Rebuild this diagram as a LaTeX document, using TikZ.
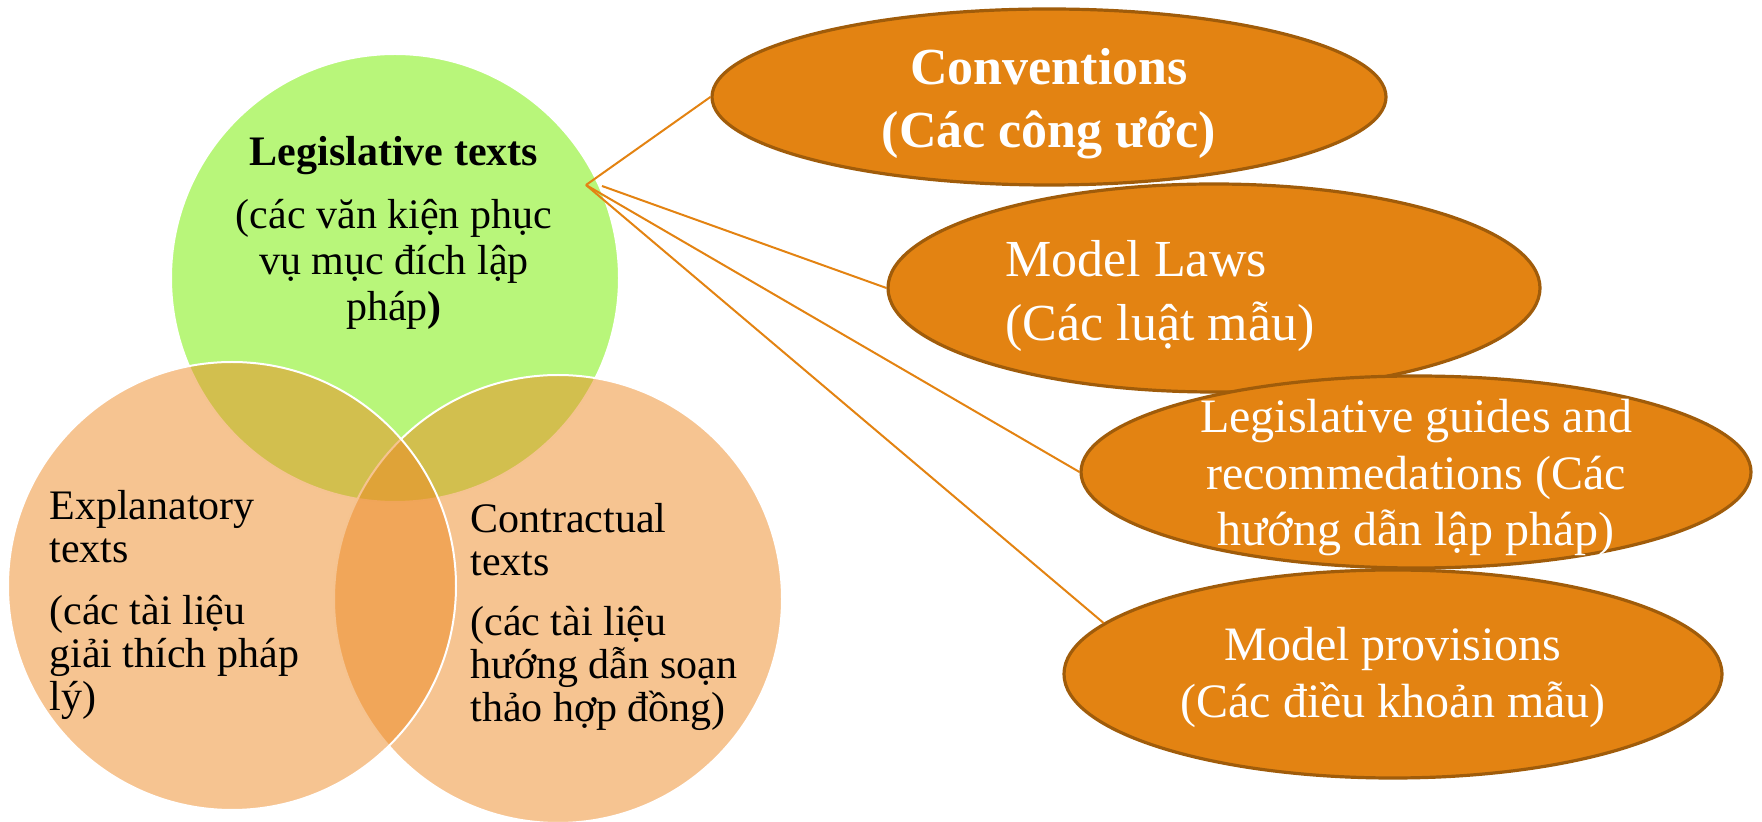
\documentclass[tikz,border=0pt]{standalone}
\usepackage{fontspec}
\setmainfont{Liberation Serif}
\usetikzlibrary{shapes.geometric}
\definecolor{legisgreen}{RGB}{184,246,122}
\definecolor{peach}{RGB}{237,137,35}
\definecolor{ovalfill}{RGB}{227,131,18}
\definecolor{ovaledge}{RGB}{160,92,10}

\begin{document}
\begin{tikzpicture}[x=.5pt, y=-.5pt,
    venn/.style={circle, draw=white, line width=1pt, minimum size=224pt, inner sep=0pt},
    oval/.style={ellipse, draw=ovaledge, line width=1.6pt, fill=ovalfill, inner sep=0pt},
    ovaltext/.style={text=white, align=center, inner sep=0pt},
    venntext/.style={align=left, anchor=west, inner sep=0pt, font={\fontsize{21}{21.5}\selectfont}},
    link/.style={draw=ovalfill, line width=1pt}
    ]
  \useasboundingbox (0,0) rectangle (1762,822);
  \node [venn, fill=legisgreen] (legis) at (395,278) {};
  \node [venn, fill=peach, fill opacity=.5] (contract) at (558,599) {};
  \node [venn, fill=peach, fill opacity=.5] (explain) at (232,586) {};

  \node [align=center, inner sep=0pt, font={\fontsize{21}{23}\selectfont}] (legistext) at (394,233)
    {\textbf{Legislative texts}\\[8.5pt] (các văn kiện phục\\ vụ mục đích lập\\ pháp\textbf{)}};
  \node [venntext] (explaintext) at (49,605)
    {Explanatory\\ texts\\[9.5pt] (các tài liệu\\ giải thích pháp\\ lý)};
  \node [venntext] (contracttext) at (470,617)
    {Contractual\\ texts\\[8.5pt] (các tài liệu\\ hướng dẫn soạn\\ thảo hợp đồng)};

  \node [oval, minimum width=337pt, minimum height=88pt] (conv) at (1049,97) {};
  \node [oval, minimum width=326pt, minimum height=104pt] (laws) at (1214,288) {};
  \node [oval, minimum width=335pt, minimum height=96pt] (guides) at (1416,472) {};
  \node [oval, minimum width=329pt, minimum height=104pt] (prov) at (1393,674) {};

  \coordinate (hub) at (586,185);
  \coordinate (hub2) at (602,186);
  \draw [link] (hub) -- (conv.west);
  \draw [link] (hub2) -- (laws.west);
  \draw [link] (hub) -- (guides.west);
  \draw [link] (hub) -- (prov.170);

  \node [ovaltext, font={\bfseries\fontsize{26}{31.5}\selectfont}] (convtext) at (1049,104)
    {Conventions\\ (Các công ước)};
  \node [ovaltext, align=left, anchor=west, font={\fontsize{26}{32}\selectfont}] (lawstext) at (1005,296)
    {Model Laws\\ (Các luật mẫu)};
  \node [ovaltext, font={\fontsize{24}{28.25}\selectfont}] (guidestext) at (1416,478)
    {Legislative guides and\\ recommedations (Các\\ hướng dẫn lập pháp)};
  \node [ovaltext, font={\fontsize{24}{28.5}\selectfont}] (provtext) at (1393,677)
    {Model provisions\\ (Các điều khoản mẫu)};
\end{tikzpicture}
\end{document}
